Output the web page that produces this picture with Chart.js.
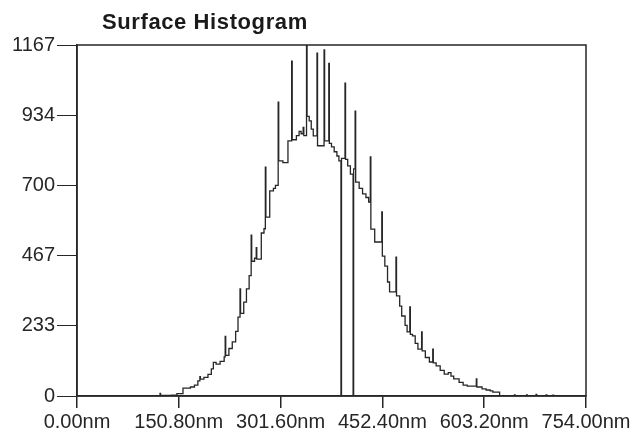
<!DOCTYPE html>
<html>
<head>
<meta charset="utf-8">
<script src="https://cdn.jsdelivr.net/npm/chart.js@4.4.1/dist/chart.umd.min.js"></script>
<style>
  html, body { margin: 0; padding: 0; background: #fff; }
  canvas { display: block; }
</style>
</head>
<body>
<canvas id="myChart" width="633" height="434"></canvas>
<script>
// bin start (nm) and count
const heightNm = [0, 123, 123.8, 140, 148, 157, 168, 174, 179, 182, 182.8, 188, 194, 199, 202, 206, 212, 218, 219.5, 220.3,
    225, 230, 235, 238.5, 241.5, 242.3, 247, 251, 255, 258, 258.8, 263, 265.5, 266.3, 273, 277, 279, 279.8, 285.5, 291,
    294, 298, 298.8, 305, 312.5, 318, 318.8, 325, 329, 332, 335, 336, 340, 340.8, 344, 347, 350, 355.5, 356.3, 362,
    366, 366.8, 373, 373.8, 377, 381, 385, 388, 391, 391.8, 397, 397.8, 401, 405, 409, 409.8, 412, 412.8, 418, 423,
    428, 432, 434.5, 435.3, 441, 451.5, 452.3, 456, 460, 463, 472.5, 473.3, 478, 481, 486, 489, 493, 493.8, 497, 501,
    505, 510.5, 511.3, 516, 522, 527, 527.8, 532, 538, 544, 550, 554, 558, 566, 572, 578, 591.5, 592.3, 600, 606,
    612, 616, 626, 648, 649, 666, 667, 680, 681, 695, 696, 705, 706, 754];
const counts = [0, 9, 2, 3, 8, 26, 30, 36, 50, 64, 56, 62, 72, 90, 112, 106, 115, 130, 198, 135,
    158, 180, 215, 262, 356, 275, 312, 356, 400, 535, 448, 458, 493, 455, 542, 556, 761, 595, 682, 690,
    700, 977, 782, 776, 848, 1113, 852, 866, 880, 872, 893, 866, 1167, 930, 915, 887, 865, 1140, 832, 832,
    1151, 848, 1106, 840, 828, 812, 798, 782, 0, 790, 1040, 787, 765, 738, 0, 755, 947, 711, 690, 672,
    660, 645, 795, 555, 512, 612, 465, 432, 379, 346, 462, 333, 299, 266, 235, 213, 296, 205, 200, 175,
    156, 213, 150, 128, 113, 156, 110, 100, 85, 73, 78, 66, 57, 45, 36, 33, 57, 30, 24, 20,
    17, 13, 0, 4, 0, 4, 0, 5, 0, 4, 0, 3, 0, 0];

const xTicks = [0, 150.8, 301.6, 452.4, 603.2, 754];
const yTicks = [0, 233, 467, 700, 934, 1167];

const ink = "#262626";
Chart.defaults.font.family = "'Liberation Sans', Arial, sans-serif";
Chart.defaults.color = ink;

// title text and the box around the plot
const decor = {
    id: "decor",
    afterDraw(chart) {
        const ctx = chart.ctx, a = chart.chartArea;
        ctx.save();
        ctx.strokeStyle = ink;
        ctx.lineWidth = 1.5;
        ctx.strokeRect(a.left, a.top, a.right - a.left, a.bottom - a.top);
        ctx.fillStyle = "#1a1a1a";
        ctx.font = "bold 22px 'Liberation Sans', Arial, sans-serif";
        ctx.letterSpacing = "0.6px";
        ctx.textAlign = "left";
        ctx.textBaseline = "middle";
        ctx.fillText("Surface Histogram", 102, 23);
        ctx.restore();
    }
};

new Chart("myChart", {
    type: "line",
    data: {
        datasets: [{
            data: heightNm.map((x, i) => ({x: x, y: counts[i]})),
            borderColor: ink,
            borderWidth: 1.3,
            stepped: true,
            pointRadius: 0,
            fill: false
        }]
    },
    options: {
        responsive: false,
        animation: false,
        layout: {padding: {top: 45, right: 47, left: 0, bottom: 0}},
        plugins: {legend: {display: false}, tooltip: {enabled: false}},
        scales: {
            x: {
                type: "linear",
                min: 0,
                max: 754,
                afterBuildTicks: scale => { scale.ticks = xTicks.map(v => ({value: v})); },
                afterFit: scale => { scale.height = 38; },
                ticks: {
                    font: {size: 20},
                    padding: 2,
                    maxRotation: 0,
                    callback: v => v.toFixed(2) + "nm"
                },
                grid: {drawOnChartArea: false, tickLength: 12, color: ink, lineWidth: 1.5},
                border: {color: ink, width: 1.5}
            },
            y: {
                min: 0,
                max: 1167,
                afterBuildTicks: scale => { scale.ticks = yTicks.map(v => ({value: v})); },
                afterFit: scale => { scale.width = 77; },
                ticks: {font: {size: 20}, padding: 2, callback: v => String(v)},
                grid: {drawOnChartArea: false, tickLength: 20, color: ink, lineWidth: 1},
                border: {color: ink, width: 1.5}
            }
        }
    },
    plugins: [decor]
});
</script>
</body>
</html>
